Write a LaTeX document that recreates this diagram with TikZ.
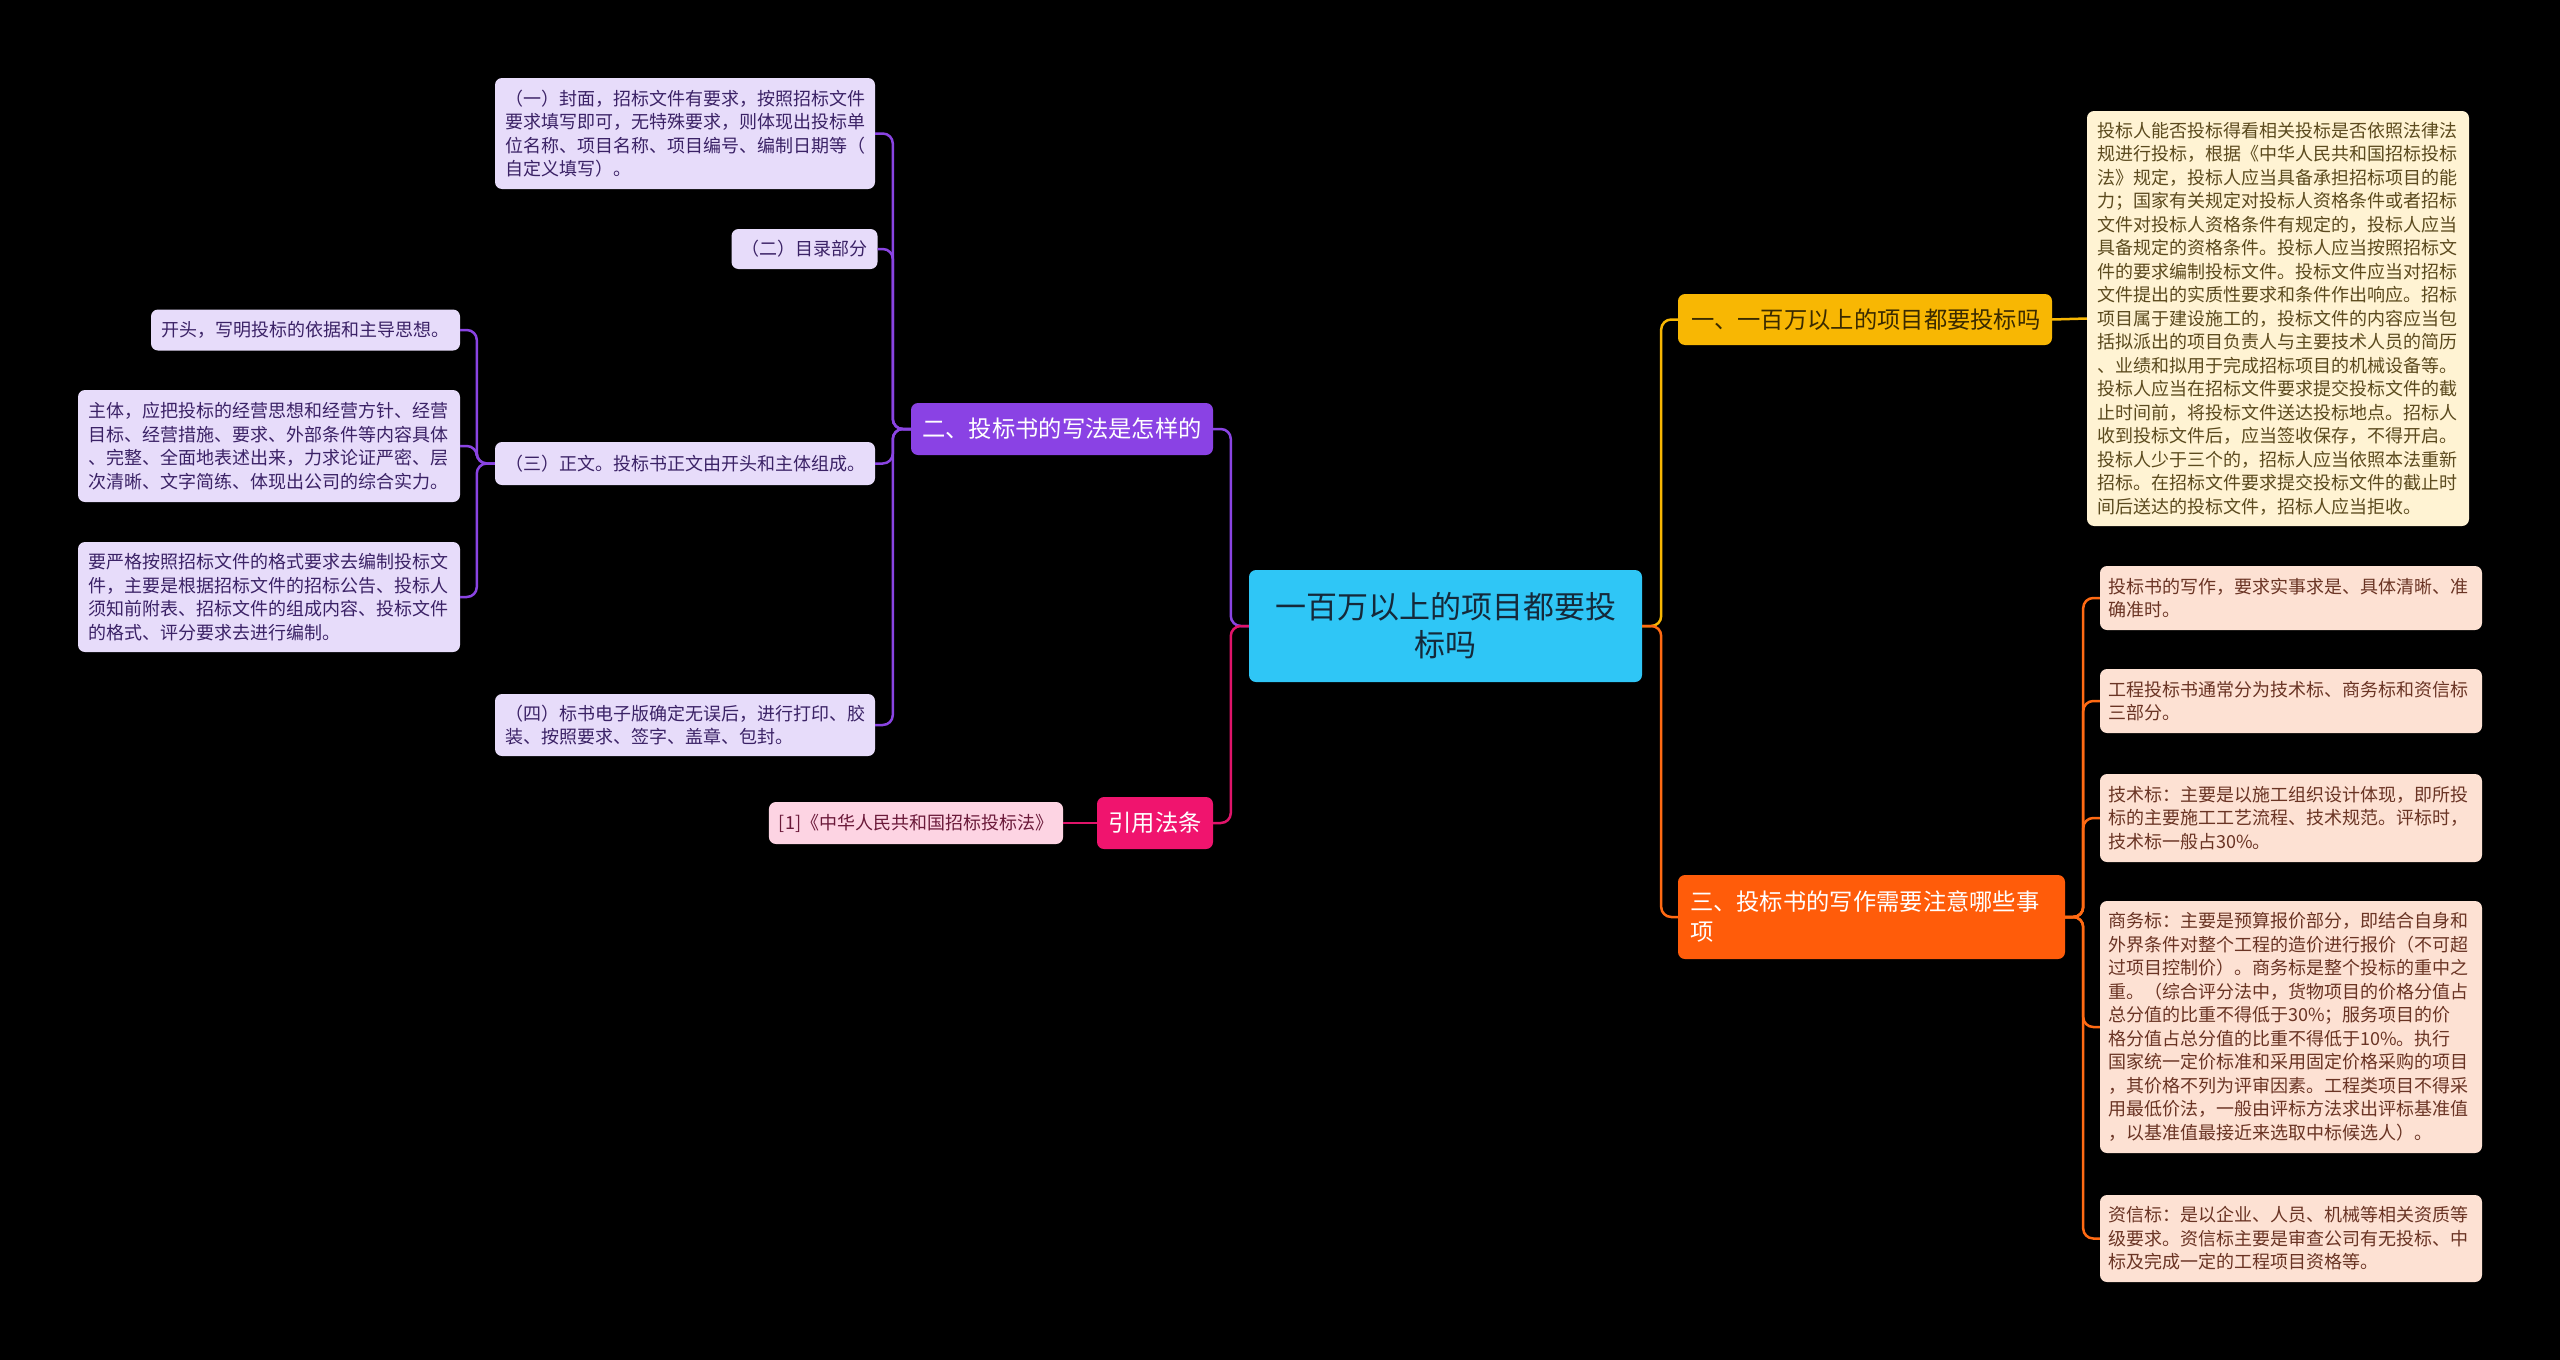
\documentclass[tikz,border=0pt]{standalone}
\usepackage{fontspec}
\setmainfont{Noto Sans CJK SC}
\usetikzlibrary{calc}
\definecolor{cfill}{HTML}{2FC6F6}
\definecolor{ctext}{HTML}{15293A}
\definecolor{yfill}{HTML}{F8B703}
\definecolor{ytext}{HTML}{3A2A00}
\definecolor{crfill}{HTML}{FFF3D3}
\definecolor{crtext}{HTML}{5B4A1E}
\definecolor{ofill}{HTML}{FF5C0A}
\definecolor{oline}{HTML}{FF6A13}
\definecolor{pefill}{HTML}{FDE1D3}
\definecolor{petext}{HTML}{6A3424}
\definecolor{pufill}{HTML}{8A42E4}
\definecolor{puline}{HTML}{8A44E2}
\definecolor{lvfill}{HTML}{E7DCFA}
\definecolor{lvtext}{HTML}{3B2266}
\definecolor{pkfill}{HTML}{F0146E}
\definecolor{pkline}{HTML}{E0146A}
\definecolor{lpfill}{HTML}{FDD4E3}
\definecolor{lptext}{HTML}{6B1A3A}
\tikzset{
  base/.style={rounded corners=7pt, inner xsep=10pt, inner ysep=3pt, anchor=center},
  small/.style={font=\fontsize{18}{23.5}\selectfont},
  big/.style={font=\fontsize{23.3}{30}\selectfont},
  central/.style={base, fill=cfill, text=ctext, align=center, font=\fontsize{31}{38}\selectfont},
  ynode/.style={base, big, fill=yfill, text=ytext, align=left, inner xsep=13pt},
  onode/.style={base, big, fill=ofill, text=white, align=left, inner xsep=12pt},
  punode/.style={base, big, fill=pufill, text=white, align=center},
  pknode/.style={base, big, fill=pkfill, text=white, align=center},
  cream/.style={base, small, fill=crfill, text=crtext, align=left},
  peach/.style={base, small, fill=pefill, text=petext, align=left, inner xsep=8pt, text width=366pt},
  lav/.style={base, small, fill=lvfill, text=lvtext, align=left},
  lpink/.style={base, small, fill=lpfill, text=lptext, align=center},
  conn/.style={line width=2.5pt, rounded corners=10pt},
}
\begin{document}
\begin{tikzpicture}[x=1pt,y=-1pt]
\useasboundingbox (0,0) rectangle (2560,1360);
\fill[black] (0,0) rectangle (2560,1360);

% central
\node[central, minimum width=393pt, minimum height=112pt] (c) at (1445.5,626) {一百万以上的项目都要投\\标吗};

% right side
\node[ynode, text width=348pt, minimum height=51pt] (y1) at (1865,319.5) {一、一百万以上的项目都要投标吗};
\node[cream, text width=362pt, minimum height=415pt] (cr) at (2278,318.5) {投标人能否投标得看相关投标是否依照法律法\\规进行投标，根据《中华人民共和国招标投标\\法》规定，投标人应当具备承担招标项目的能\\力；国家有关规定对投标人资格条件或者招标\\文件对投标人资格条件有规定的，投标人应当\\具备规定的资格条件。投标人应当按照招标文\\件的要求编制投标文件。投标文件应当对招标\\文件提出的实质性要求和条件作出响应。招标\\项目属于建设施工的，投标文件的内容应当包\\括拟派出的项目负责人与主要技术人员的简历\\、业绩和拟用于完成招标项目的机械设备等。\\投标人应当在招标文件要求提交投标文件的截\\止时间前，将投标文件送达投标地点。招标人\\收到投标文件后，应当签收保存，不得开启。\\投标人少于三个的，招标人应当依照本法重新\\招标。在招标文件要求提交投标文件的截止时\\间后送达的投标文件，招标人应当拒收。};

\node[onode, text width=363pt, minimum height=84pt] (o) at (1871.5,917) {三、投标书的写作需要注意哪些事\\项};
\node[peach, minimum height=64pt] (p1) at (2291,598) {投标书的写作，要求实事求是、具体清晰、准\\确准时。};
\node[peach, minimum height=64pt] (p2) at (2291,701) {工程投标书通常分为技术标、商务标和资信标\\三部分。};
\node[peach, minimum height=88pt] (p3) at (2291,818) {技术标：主要是以施工组织设计体现，即所投\\标的主要施工工艺流程、技术规范。评标时，\\技术标一般占30\%。};
\node[peach, minimum height=252pt] (p4) at (2291,1027) {商务标：主要是预算报价部分，即结合自身和\\外界条件对整个工程的造价进行报价（不可超\\过项目控制价）。商务标是整个投标的重中之\\重。（综合评分法中，货物项目的价格分值占\\总分值的比重不得低于30\%；服务项目的价\\格分值占总分值的比重不得低于10\%。执行\\国家统一定价标准和采用固定价格采购的项目\\，其价格不列为评审因素。工程类项目不得采\\用最低价法，一般由评标方法求出评标基准值\\，以基准值最接近来选取中标候选人）。};
\node[peach, minimum height=87pt] (p5) at (2291,1238.5) {资信标：是以企业、人员、机械等相关资质等\\级要求。资信标主要是审查公司有无投标、中\\标及完成一定的工程项目资格等。};

% left side
\node[punode, minimum width=302pt, minimum height=52pt] (pu) at (1062,429) {二、投标书的写法是怎样的};
\node[lav, text width=360pt, minimum height=111pt] (l1) at (685,133.5) {（一）封面，招标文件有要求，按照招标文件\\要求填写即可，无特殊要求，则体现出投标单\\位名称、项目名称、项目编号、编制日期等（\\自定义填写）。};
\node[lav, align=center, minimum width=145pt, minimum height=40pt] (l2) at (804.5,249) {（二）目录部分};
\node[lav, text width=360pt, minimum height=43pt] (l3) at (685,463.5) {（三）正文。投标书正文由开头和主体组成。};
\node[lav, text width=360pt, minimum height=62pt] (l4) at (685,725) {（四）标书电子版确定无误后，进行打印、胶\\装、按照要求、签字、盖章、包封。};
\node[lav, align=center, minimum width=309pt, minimum height=41pt] (l5) at (305.5,330) {开头，写明投标的依据和主导思想。};
\node[lav, text width=362pt, minimum height=112pt] (l6) at (269,446) {主体，应把投标的经营思想和经营方针、经营\\目标、经营措施、要求、外部条件等内容具体\\、完整、全面地表述出来，力求论证严密、层\\次清晰、文字简练、体现出公司的综合实力。};
\node[lav, text width=362pt, minimum height=110pt] (l7) at (269,597) {要严格按照招标文件的格式要求去编制投标文\\件，主要是根据招标文件的招标公告、投标人\\须知前附表、招标文件的组成内容、投标文件\\的格式、评分要求去进行编制。};

\node[pknode, minimum width=116pt, minimum height=52pt] (pk) at (1155,823) {引用法条};
\node[lpink, minimum width=294pt, minimum height=42pt] (law) at (916,823) {[1]《中华人民共和国招标投标法》};

% connectors
\draw[conn, puline] (c.west) -- ++(-18,0) |- (pu.east);
\draw[conn, pkline] (c.west) -- ++(-18,0) |- (pk.east);
\draw[conn, yfill] (c.east) -- ++(19,0) |- (y1.west);
\draw[conn, oline] (c.east) -- ++(19,0) |- (o.west);

\draw[conn, yfill] (y1.east) -- (cr.west);
\foreach \t in {p1,p2,p3,p4,p5}
  \draw[conn, oline] (o.east) -- ++(18,0) |- (\t.west);

\foreach \t in {l1,l2,l3,l4}
  \draw[conn, puline] (pu.west) -- ++(-18,0) |- (\t.east);
\foreach \t in {l5,l6,l7}
  \draw[conn, puline] (l3.west) -- ++(-18,0) |- (\t.east);

\draw[conn, pkline] (pk.west) -- (law.east);
\end{tikzpicture}
\end{document}
